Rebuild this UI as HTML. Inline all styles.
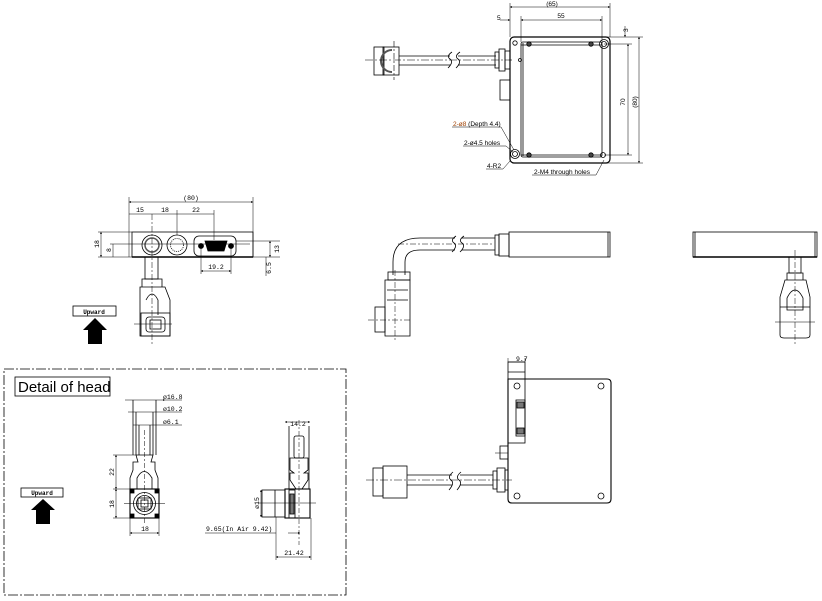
<!DOCTYPE html>
<html><head><meta charset="utf-8"><style>
html,body{margin:0;padding:0;background:#fff;}
svg{display:block;font-family:"Liberation Sans",sans-serif;}
.m{font-family:"Liberation Mono",monospace;}
</style></head><body>
<svg width="822" height="601" viewBox="0 0 822 601" xmlns="http://www.w3.org/2000/svg">
<defs>
<marker id="a" viewBox="0 0 6 6" refX="6" refY="3" markerWidth="4" markerHeight="4" orient="auto-start-reverse"><path d="M0,0L6,3L0,6z" fill="#000"/></marker>
</defs>
<g fill="none" stroke="#000" stroke-width="0.8">
<!-- ===== TOP VIEW ===== -->
<rect x="510" y="37" width="100" height="126" rx="4" stroke-width="1.2"/>
<rect x="521" y="42" width="81" height="115" rx="2"/>
<line x1="523" y1="43" x2="523" y2="156"/>
<line x1="521" y1="45" x2="602" y2="45"/>
<line x1="521" y1="155" x2="602" y2="155"/>
<circle cx="515" cy="43" r="2.2"/><circle cx="604" cy="44" r="4.5"/><circle cx="604" cy="44" r="2.5"/>
<circle cx="515" cy="154" r="4.5"/><circle cx="515" cy="154" r="2.5"/><circle cx="603" cy="155" r="2.5"/>
<circle cx="529" cy="44" r="2.2" fill="#444"/><circle cx="591" cy="44" r="2.2" fill="#444"/>
<circle cx="529" cy="155" r="2.2" fill="#444"/><circle cx="591" cy="155" r="2.2" fill="#444"/>
<circle cx="520" cy="60" r="1.5"/>
<rect x="500" y="80" width="10" height="20"/>
<!-- cable top -->
<rect x="374" y="47" width="10" height="28"/>
<rect x="383" y="47" width="16" height="28"/>
<path d="M392,50 a11,11 0 1 0 0,22" stroke-width="2" stroke="#555"/>
<line x1="399" y1="56" x2="450" y2="56"/><line x1="399" y1="65" x2="450" y2="65"/>
<line x1="458" y1="56" x2="496" y2="56"/><line x1="458" y1="65" x2="496" y2="65"/>
<path d="M448,68 q6,-6 2,-9 q-4,-3 2,-7 M456,68 q6,-6 2,-9 q-4,-3 2,-7"/>
<rect x="495" y="52" width="4" height="16"/><rect x="499" y="49" width="6" height="22"/><rect x="505" y="51" width="5" height="18"/>
<line x1="365" y1="60" x2="512" y2="60" stroke-dasharray="8,2,2,2" stroke-width="0.6"/>
<line x1="394" y1="41" x2="394" y2="80" stroke-dasharray="6,2,2,2" stroke-width="0.6"/>
<!-- dims top -->
<line x1="510" y1="3" x2="510" y2="37" stroke-width="0.5"/><line x1="610" y1="3" x2="610" y2="37" stroke-width="0.5"/>
<line x1="510" y1="7" x2="610" y2="7" marker-start="url(#a)" marker-end="url(#a)" stroke-width="0.5"/>
<line x1="521" y1="16" x2="521" y2="42" stroke-width="0.5"/><line x1="602" y1="16" x2="602" y2="42" stroke-width="0.5"/>
<line x1="521" y1="20" x2="602" y2="20" marker-start="url(#a)" marker-end="url(#a)" stroke-width="0.5"/>
<line x1="500" y1="20" x2="510" y2="20" marker-end="url(#a)" stroke-width="0.5"/>
<line x1="604" y1="37" x2="643" y2="37" stroke-width="0.5"/><line x1="604" y1="163" x2="643" y2="163" stroke-width="0.5"/>
<line x1="604" y1="44" x2="632" y2="44" stroke-width="0.5"/><line x1="604" y1="155" x2="632" y2="155" stroke-width="0.5"/>
<line x1="628" y1="44" x2="628" y2="155" marker-start="url(#a)" marker-end="url(#a)" stroke-width="0.5"/>
<line x1="639" y1="37" x2="639" y2="163" marker-start="url(#a)" marker-end="url(#a)" stroke-width="0.5"/>
<line x1="625" y1="26" x2="625" y2="37" marker-end="url(#a)" stroke-width="0.5"/>
<!-- leaders -->
<path d="M452,127 H501 L514,150" stroke-width="0.5"/>
<path d="M463,146 H506 L513,152" stroke-width="0.5"/>
<path d="M486,169 H503 L510,161" stroke-width="0.5"/>
<path d="M532,175 H596 L604,160" stroke-width="0.5"/>
<!-- ===== FRONT VIEW (left) ===== -->
<rect x="132" y="232" width="121" height="25"/>
<line x1="132" y1="257" x2="253" y2="257" stroke-width="1.6"/>
<circle cx="152" cy="245" r="10"/><circle cx="152" cy="245" r="7" stroke-width="1.5" stroke="#555"/>
<circle cx="177" cy="245" r="10"/><circle cx="177" cy="245" r="6.5" stroke-dasharray="1,1"/>
<rect x="194" y="236" width="42" height="20" rx="5"/>
<path d="M205,241 H227 L224,251 H208 Z" fill="#000"/>
<circle cx="201" cy="246" r="2.5" fill="#000"/><circle cx="231" cy="246" r="2.5" fill="#000"/>
<rect x="145" y="257" width="13" height="22"/>
<path d="M142,279 H162 V287 H142 Z M140,287 H165 L170,300 V336 H140 V300 Z"/>
<path d="M146,300 Q152,288 158,300 V315"/>
<rect x="141" y="313" width="29" height="23"/>
<rect x="146" y="317" width="19" height="15" rx="3"/><rect x="150" y="320" width="11" height="9"/>
<line x1="152" y1="214" x2="152" y2="345" stroke-dasharray="6,2,2,2" stroke-width="0.5"/>
<line x1="134" y1="324" x2="172" y2="324" stroke-width="0.5"/>
<line x1="129" y1="197" x2="129" y2="257" stroke-width="0.5"/><line x1="253" y1="197" x2="253" y2="257" stroke-width="0.5"/>
<line x1="129" y1="202" x2="253" y2="202" marker-start="url(#a)" marker-end="url(#a)" stroke-width="0.5"/>
<line x1="129" y1="214" x2="214" y2="214" stroke-width="0.5"/>
<line x1="177" y1="210" x2="177" y2="235" stroke-width="0.5"/><line x1="214" y1="210" x2="214" y2="240" stroke-width="0.5"/>
<line x1="98" y1="232" x2="132" y2="232" stroke-width="0.5"/><line x1="98" y1="257" x2="132" y2="257" stroke-width="0.5"/>
<line x1="101" y1="232" x2="101" y2="257" marker-start="url(#a)" marker-end="url(#a)" stroke-width="0.5"/>
<line x1="110" y1="244" x2="250" y2="244" stroke-width="0.5"/>
<line x1="113" y1="244" x2="113" y2="257" stroke-width="0.5"/>
<line x1="236" y1="241" x2="280" y2="241" stroke-width="0.5"/><line x1="253" y1="257" x2="280" y2="257" stroke-width="0.5"/>
<line x1="270" y1="241" x2="270" y2="257" marker-start="url(#a)" marker-end="url(#a)" stroke-width="0.5"/>
<line x1="266" y1="257" x2="266" y2="276" stroke-width="0.5"/>
<line x1="201" y1="248" x2="201" y2="274" stroke-width="0.5"/><line x1="231" y1="248" x2="231" y2="274" stroke-width="0.5"/>
<line x1="201" y1="271" x2="231" y2="271" marker-start="url(#a)" marker-end="url(#a)" stroke-width="0.5"/>
<rect x="73" y="306" width="43" height="10"/>
<!-- ===== MIDDLE LEFT ===== -->
<rect x="509" y="232" width="101" height="25"/><line x1="608" y1="232" x2="608" y2="257"/>
<rect x="495" y="235" width="4" height="20"/><rect x="499" y="234" width="10" height="22"/>
<path d="M495,238 H462 M455,238 H420 Q393,238 393,262 V275"/>
<path d="M495,250 H462 M455,250 H420 Q405,250 405,262 V275"/>
<path d="M398,244 H492" stroke-dasharray="6,2,2,2" stroke-width="0.5"/>
<path d="M452,252 q6,-6 2,-9 q-4,-3 2,-7 M460,252 q6,-6 2,-9 q-4,-3 2,-7"/>
<rect x="388" y="272" width="22" height="8"/>
<path d="M385,280 H410 V336 H385 Z M387,290 H408 M387,300 H408"/>
<rect x="375" y="307" width="10" height="25"/>
<line x1="395" y1="270" x2="395" y2="340" stroke-dasharray="6,2,2,2" stroke-width="0.5"/>
<line x1="368" y1="320" x2="412" y2="320" stroke-dasharray="6,2,2,2" stroke-width="0.5"/>
<!-- ===== MIDDLE RIGHT ===== -->
<rect x="693" y="232" width="124" height="25"/><line x1="695" y1="232" x2="695" y2="257"/><line x1="815" y1="232" x2="815" y2="257"/>
<line x1="693" y1="257" x2="817" y2="257" stroke-width="1.6"/>
<rect x="789" y="257" width="12" height="16"/>
<path d="M787,273 H803 V280 H787 Z M785,280 H806 L810,297 V335 Q810,338 806,338 H784 Q780,338 780,335 V297 Z"/>
<path d="M787,298 Q795,282 803,298 V310 H787 Z"/>
<line x1="780" y1="307" x2="810" y2="307"/>
<line x1="795" y1="250" x2="795" y2="345" stroke-dasharray="6,2,2,2" stroke-width="0.5"/>
<line x1="775" y1="322" x2="815" y2="322" stroke-width="0.5"/>
<!-- ===== BOTTOM VIEW ===== -->
<path d="M508,379 H607 Q611,379 611,383 V499 Q611,503 607,503 H512 Q508,503 508,499 Z" stroke-width="1.1"/>
<rect x="508" y="362" width="17" height="81"/>
<line x1="508" y1="372" x2="525" y2="372"/>
<circle cx="517" cy="386" r="3"/><circle cx="601" cy="386" r="3"/><circle cx="517" cy="496" r="3"/><circle cx="601" cy="496" r="3"/>
<rect x="516" y="400" width="9" height="36"/><rect x="517" y="402" width="7" height="6" fill="#777"/><rect x="517" y="428" width="7" height="6" fill="#777"/>
<rect x="500" y="446" width="8" height="13"/><line x1="495" y1="453" x2="508" y2="453" stroke-width="0.5"/>
<rect x="373" y="468" width="10" height="28"/><rect x="383" y="466" width="24" height="32"/>
<line x1="407" y1="475" x2="452" y2="475"/><line x1="407" y1="485" x2="452" y2="485"/>
<line x1="460" y1="475" x2="493" y2="475"/><line x1="460" y1="485" x2="493" y2="485"/>
<path d="M449,490 q6,-7 2,-10 q-4,-3 2,-8 M457,490 q6,-7 2,-10 q-4,-3 2,-8"/>
<rect x="493" y="471" width="4" height="18"/><rect x="497" y="468" width="8" height="24"/><rect x="505" y="470" width="3" height="20"/>
<line x1="366" y1="480" x2="512" y2="480" stroke-dasharray="8,2,2,2" stroke-width="0.5"/>
<line x1="508" y1="358" x2="508" y2="362" stroke-width="0.5"/><line x1="525" y1="358" x2="525" y2="362" stroke-width="0.5"/>
<line x1="508" y1="362" x2="525" y2="362" stroke-width="0.5"/>
<!-- ===== DETAIL BOX ===== -->
<rect x="4" y="369" width="342" height="226" stroke-dasharray="10,2,2,2" stroke-width="0.8"/>
<rect x="15" y="377" width="95" height="19"/>
<rect x="21" y="488" width="42" height="9"/>
<!-- front head -->
<line x1="133" y1="400" x2="133" y2="455"/><line x1="156" y1="400" x2="156" y2="455"/>
<line x1="136" y1="412" x2="136" y2="455"/><line x1="153" y1="412" x2="153" y2="455"/>
<line x1="139" y1="425" x2="139" y2="455"/><line x1="150" y1="425" x2="150" y2="455"/>
<path d="M136,455 H153 L151,462 H155 V470 L158,478 V489 H130 V478 L133,470 V462 H138 Z"/>
<path d="M137,489 V478 Q144,465 152,478 V489"/>
<rect x="130" y="489" width="29" height="29" stroke-width="1.1"/>
<circle cx="144.5" cy="503.5" r="11"/><circle cx="144.5" cy="503.5" r="8"/>
<rect x="138" y="498" width="13" height="11"/><rect x="141" y="500" width="7" height="7"/>
<rect x="130" y="489" width="4" height="4" fill="#000"/><rect x="155" y="489" width="4" height="4" fill="#000"/>
<rect x="130" y="514" width="4" height="4" fill="#000"/><rect x="155" y="514" width="4" height="4" fill="#000"/>
<line x1="144.5" y1="430" x2="144.5" y2="525" stroke-dasharray="5,2,2,2" stroke-width="0.5"/>
<line x1="124" y1="503.5" x2="165" y2="503.5" stroke-width="0.5"/>
<line x1="125" y1="400" x2="165" y2="400" marker-end="url(#a)" stroke-width="0.5"/><line x1="165" y1="400" x2="182" y2="400" stroke-width="0.5"/>
<line x1="128" y1="412" x2="160" y2="412" stroke-width="0.5"/><line x1="160" y1="412" x2="182" y2="412" stroke-width="0.5"/>
<line x1="133" y1="425" x2="182" y2="425" stroke-width="0.5"/>
<line x1="113" y1="455" x2="136" y2="455" stroke-width="0.5"/><line x1="113" y1="489" x2="130" y2="489" stroke-width="0.5"/><line x1="113" y1="518" x2="130" y2="518" stroke-width="0.5"/>
<line x1="116" y1="455" x2="116" y2="489" marker-start="url(#a)" marker-end="url(#a)" stroke-width="0.5"/>
<line x1="116" y1="489" x2="116" y2="518" marker-start="url(#a)" marker-end="url(#a)" stroke-width="0.5"/>
<line x1="130" y1="518" x2="130" y2="536" stroke-width="0.5"/><line x1="159" y1="518" x2="159" y2="536" stroke-width="0.5"/>
<line x1="130" y1="533" x2="159" y2="533" marker-start="url(#a)" marker-end="url(#a)" stroke-width="0.5"/>
<!-- side head -->
<line x1="289" y1="426" x2="289" y2="489"/><line x1="309" y1="426" x2="309" y2="489"/>
<rect x="294" y="436" width="10" height="22" rx="2"/>
<path d="M290,458 H308 V470 L304,473 H308 V480 L302,489 H296 L290,480 V473 H294 L290,470 Z"/>
<rect x="285" y="489" width="25" height="29" stroke-width="1.1"/>
<rect x="289" y="490" width="6" height="28"/><rect x="290" y="494" width="4" height="20" fill="#777"/>
<rect x="262" y="490" width="23" height="27"/><line x1="275" y1="490" x2="275" y2="517"/>
<line x1="299" y1="420" x2="299" y2="545" stroke-dasharray="5,2,2,2" stroke-width="0.5"/>
<line x1="258" y1="503" x2="316" y2="503" stroke-width="0.5"/>
<line x1="285" y1="422" x2="310" y2="422" marker-start="url(#a)" marker-end="url(#a)" stroke-width="0.5"/>
<line x1="261" y1="490" x2="261" y2="517" marker-start="url(#a)" marker-end="url(#a)" stroke-width="0.5"/>
<line x1="205" y1="533" x2="276" y2="533" stroke-width="0.5"/>
<line x1="276" y1="517" x2="276" y2="560" stroke-width="0.5"/><line x1="311" y1="518" x2="311" y2="560" stroke-width="0.5"/>
<line x1="276" y1="557" x2="311" y2="557" marker-start="url(#a)" marker-end="url(#a)" stroke-width="0.5"/>
<line x1="288" y1="533" x2="300" y2="533" marker-end="url(#a)" stroke-width="0.5"/>
</g>
<!-- arrows -->
<path d="M88,344 V330 H83 L95,318 L107,330 H102 V344 Z" fill="#000"/>
<path d="M36,524 V510 H31 L43,499 L55,510 H50 V524 Z" fill="#000"/>
<!-- text -->
<g font-size="6.5" fill="#000">
<text x="552" y="6" text-anchor="middle">(65)</text>
<text x="561" y="18" text-anchor="middle">55</text>
<text x="497" y="20">5</text>
<text x="628" y="32" transform="rotate(-90 628 32)">3</text>
<text x="625" y="102" transform="rotate(-90 625 102)" text-anchor="middle">70</text>
<text x="637" y="102" transform="rotate(-90 637 102)" text-anchor="middle">(80)</text>
<text x="453" y="126" fill="#a04000" font-size="6.5">2-ø8 <tspan fill="#000">(Depth 4.4)</tspan></text>
<text x="464" y="145">2-ø4.5 holes</text>
<text x="487" y="168">4-R2</text>
<text x="534" y="174">2-M4 through holes</text>
</g>
<g class="m" font-size="6.5" fill="#000">
<text x="191" y="200" text-anchor="middle">(80)</text>
<text x="140" y="212" text-anchor="middle">15</text>
<text x="165" y="212" text-anchor="middle">18</text>
<text x="196" y="212" text-anchor="middle">22</text>
<text x="99" y="244" transform="rotate(-90 99 244)" text-anchor="middle">18</text>
<text x="111" y="250" transform="rotate(-90 111 250)" text-anchor="middle">8</text>
<text x="279" y="249" transform="rotate(-90 279 249)" text-anchor="middle">13</text>
<text x="271" y="268" transform="rotate(-90 271 268)" text-anchor="middle">6.5</text>
<text x="216" y="269" text-anchor="middle">19.2</text>
<text x="94" y="314" text-anchor="middle" font-weight="bold" font-size="6">Upward</text>
<text x="42" y="495" text-anchor="middle" font-weight="bold" font-size="6">Upward</text>
<text x="516" y="361">9.7</text>
<text x="163" y="399">ø16.8</text>
<text x="163" y="411">ø10.2</text>
<text x="163" y="424">ø6.1</text>
<text x="114" y="472" transform="rotate(-90 114 472)" text-anchor="middle">22</text>
<text x="114" y="504" transform="rotate(-90 114 504)" text-anchor="middle">18</text>
<text x="145" y="531" text-anchor="middle">18</text>
<text x="298" y="426" text-anchor="middle">14.2</text>
<text x="259" y="503" transform="rotate(-90 259 503)" text-anchor="middle">ø15</text>
<text x="206" y="531">9.65(In Air 9.42)</text>
<text x="294" y="555" text-anchor="middle">21.42</text>
</g>
<text x="18" y="392" font-size="15" fill="#000">Detail of head</text>
</svg>
</body></html>
